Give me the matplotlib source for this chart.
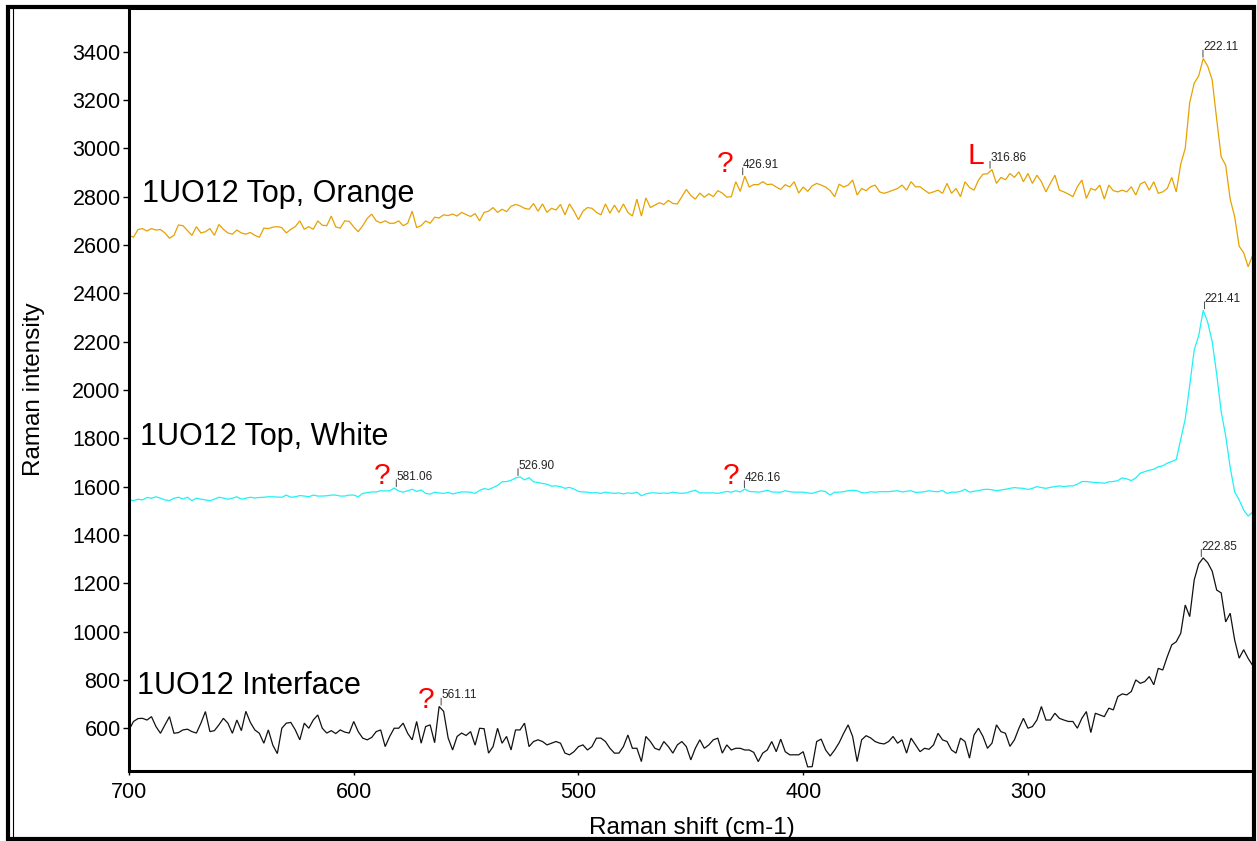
import numpy as np
import matplotlib
matplotlib.use("Agg")
import matplotlib.pyplot as plt
from matplotlib.patches import Rectangle
from matplotlib.lines import Line2D

plt.rcParams['font.family'] = ['Liberation Sans', 'DejaVu Sans']

# Raman shift grid (cm-1), 2 cm-1 steps from 700 down to 200
shift = np.arange(700, 199, -2)

orange = [
    2640, 2632, 2664, 2668, 2658, 2668, 2662, 2664, 2650, 2628,
    2640, 2683, 2680, 2660, 2640, 2676, 2650, 2655, 2668, 2640,
    2685, 2665, 2650, 2645, 2662, 2650, 2645, 2652, 2640, 2632,
    2670, 2668, 2674, 2676, 2672, 2650, 2665, 2676, 2700, 2665,
    2676, 2665, 2700, 2682, 2680, 2720, 2675, 2670, 2700, 2698,
    2675, 2655, 2680, 2710, 2728, 2700, 2692, 2700, 2690, 2690,
    2700, 2680, 2690, 2740, 2672, 2680, 2700, 2690, 2715, 2712,
    2725, 2722, 2728, 2720, 2735, 2726, 2718, 2730, 2700, 2735,
    2740, 2755, 2735, 2748, 2738, 2760, 2768, 2762, 2752, 2748,
    2772, 2740, 2770, 2735, 2752, 2745, 2768, 2725, 2770, 2740,
    2705, 2740, 2755, 2752, 2735, 2725, 2770, 2732, 2765, 2735,
    2770, 2735, 2720, 2790, 2720, 2795, 2755, 2765, 2775, 2768,
    2785, 2772, 2770, 2800, 2830, 2805, 2790, 2815, 2798, 2812,
    2800, 2825, 2815, 2798, 2800, 2862, 2822, 2885, 2840, 2850,
    2850, 2862, 2850, 2852, 2840, 2830, 2850, 2840, 2862, 2815,
    2840, 2822, 2845, 2855, 2848, 2840, 2825, 2800, 2852, 2840,
    2848, 2869, 2807, 2834, 2825, 2841, 2848, 2820, 2814, 2820,
    2827, 2834, 2848, 2827, 2862, 2841, 2841, 2827, 2814, 2820,
    2827, 2814, 2855, 2814, 2834, 2800, 2862, 2838, 2827, 2869,
    2893, 2895, 2912, 2855, 2880, 2870, 2896, 2880, 2903, 2862,
    2896, 2855, 2889, 2862, 2820, 2855, 2889, 2827, 2820, 2811,
    2800, 2841, 2869, 2793, 2834, 2827, 2848, 2790, 2848, 2825,
    2820, 2827, 2820, 2841, 2807, 2852, 2862, 2827, 2862, 2814,
    2820, 2834, 2880, 2820, 2935, 3000, 3190, 3270, 3300, 3372,
    3340, 3283, 3120, 2965, 2930, 2790, 2717, 2595, 2568, 2510,
    2558,
]

white = [
    1545, 1542, 1548, 1545, 1555, 1552, 1558, 1552, 1545, 1542,
    1552, 1556, 1549, 1556, 1542, 1552, 1548, 1545, 1542, 1548,
    1556, 1553, 1548, 1552, 1558, 1548, 1552, 1556, 1553, 1555,
    1556, 1558, 1558, 1557, 1556, 1565, 1556, 1558, 1563, 1561,
    1558, 1565, 1561, 1561, 1562, 1565, 1565, 1561, 1561, 1565,
    1565, 1558, 1572, 1575, 1578, 1578, 1583, 1582, 1583, 1594,
    1582, 1577, 1583, 1589, 1580, 1586, 1572, 1569, 1577, 1574,
    1572, 1576, 1570, 1574, 1578, 1578, 1577, 1572, 1584, 1592,
    1588, 1596, 1605, 1620, 1621, 1626, 1636, 1640, 1628, 1637,
    1620, 1617, 1613, 1610, 1602, 1603, 1600, 1593, 1597, 1590,
    1580, 1578, 1577, 1574, 1575, 1572, 1577, 1574, 1572, 1574,
    1570, 1574, 1572, 1577, 1562, 1570, 1574, 1574, 1572, 1574,
    1572, 1577, 1574, 1572, 1574, 1580, 1585, 1574, 1574, 1574,
    1574, 1572, 1576, 1580, 1577, 1583, 1578, 1590, 1580, 1579,
    1577, 1580, 1585, 1578, 1577, 1577, 1583, 1579, 1577, 1577,
    1577, 1574, 1572, 1578, 1583, 1579, 1565, 1577, 1577, 1579,
    1583, 1585, 1583, 1575, 1574, 1579, 1577, 1579, 1579, 1579,
    1581, 1583, 1578, 1581, 1583, 1576, 1577, 1579, 1583, 1580,
    1579, 1584, 1572, 1577, 1577, 1580, 1589, 1577, 1581, 1583,
    1588, 1589, 1587, 1583, 1586, 1589, 1593, 1596, 1594, 1593,
    1588, 1593, 1600, 1596, 1593, 1597, 1600, 1603, 1600, 1603,
    1603, 1610, 1621, 1621, 1619, 1617, 1616, 1614, 1620, 1621,
    1625, 1636, 1632, 1625, 1636, 1656, 1662, 1668, 1672, 1682,
    1686, 1697, 1704, 1712, 1795, 1880, 2020, 2166, 2225, 2330,
    2280, 2200, 2065, 1910, 1810, 1680, 1578, 1545, 1503, 1478,
    1495,
]

interface = [
    593, 628, 640, 641, 634, 648, 607, 579, 614, 648,
    579, 582, 593, 596, 586, 580, 621, 669, 586, 590,
    614, 641, 621, 579, 634, 590, 670, 624, 593, 579,
    538, 593, 530, 495, 600, 621, 624, 593, 552, 621,
    600, 634, 655, 600, 580, 590, 578, 593, 584, 580,
    628, 586, 559, 552, 562, 586, 593, 524, 566, 600,
    600, 621, 579, 552, 628, 538, 607, 614, 540, 690,
    670, 560, 510, 566, 580, 570, 586, 530, 600, 598,
    497, 524, 600, 538, 566, 510, 593, 593, 621, 524,
    545, 552, 545, 531, 538, 545, 538, 497, 490, 503,
    524, 531, 510, 524, 559, 559, 545, 517, 497, 497,
    524, 572, 517, 517, 462, 566, 545, 517, 510, 545,
    524, 497, 531, 545, 524, 469, 517, 552, 517, 531,
    552, 559, 497, 531, 510, 517, 517, 510, 510, 500,
    462, 497, 510, 545, 503, 555, 503, 490, 490, 490,
    503, 440, 441, 545, 555, 510, 485, 510, 540, 579,
    614, 566, 462, 552, 569, 560, 545, 538, 535, 545,
    566, 538, 552, 497, 559, 531, 503, 517, 513, 531,
    579, 552, 545, 510, 497, 559, 545, 476, 572, 600,
    566, 517, 538, 614, 586, 579, 525, 552, 600, 641,
    600, 607, 634, 690, 634, 634, 662, 641, 634, 628,
    628, 600, 641, 669, 582, 662, 655, 648, 683, 676,
    731, 742, 738, 752, 800, 786, 793, 814, 780, 848,
    841, 896, 945, 958, 993, 1110, 1062, 1214, 1280, 1305,
    1285, 1250, 1172, 1160, 1040, 1076, 965, 890, 925, 889,
    860,
]

# Labelled peak positions (cm-1)
orange_peaks = [426.91, 316.86, 222.11]
white_peaks = [581.06, 526.90, 426.16, 221.41]
interface_peaks = [561.11, 222.85]

# Series names, with the baseline position of each name
series_names = ['1UO12 Top, Orange', '1UO12 Top, White', '1UO12 Interface']
name_x = [694.4, 695.1, 696.3]
name_y = [2779, 1772, 741]

# Red flags: (symbol, shift, intensity at baseline, alignment)
flags = [
    ('?', 434.8, 2902, 'center'),
    ('L', 327.0, 2935, 'left'),
    ('?', 587.5, 1611, 'center'),
    ('?', 432.2, 1611, 'center'),
    ('?', 567.9, 683, 'center'),
]

x_ticks = [700, 600, 500, 400, 300]
y_ticks = list(range(600, 3401, 200))

W, H = 1257, 841
fig = plt.figure(figsize=(W / 100, H / 100), dpi=100)
fig.patch.set_facecolor('white')
ax = fig.add_axes([129 / W, 70 / H, (1254 - 129) / W, (771 - 8) / H])

colors = ['#e6a200', '#1ff2f5', '#111111']
all_series = [orange, white, interface]
all_peaks = [orange_peaks, white_peaks, interface_peaks]

for ys, c in zip(all_series, colors):
    ax.plot(shift, ys, color=c, lw=0.9, solid_joinstyle='miter')

for ys, peaks in zip(all_series, all_peaks):
    arr = np.asarray(ys, dtype=float)
    for p in peaks:
        near = np.abs(shift - p) <= 2
        yv = arr[near].max()
        ax.annotate('', xy=(p, yv), xytext=(0, 6), textcoords='offset points',
                    arrowprops=dict(arrowstyle='-', lw=0.7, color='#444444',
                                    shrinkA=0, shrinkB=1))
        ax.annotate(f'{p:.2f}', xy=(p, yv), xytext=(0, 6),
                    textcoords='offset points', ha='left', va='baseline',
                    fontsize=8.5, color='#222222')

for name, nx, ny in zip(series_names, name_x, name_y):
    ax.text(nx, ny, name, fontsize=22, ha='left', va='baseline', color='black')

for sym, fx, fy, al in flags:
    ax.text(fx, fy, sym, fontsize=21.5, ha=al, va='baseline', color='#ff0000')

ax.set_xlim(700, 199.4)
ax.set_ylim(423, 3581)
ax.set_xticks(x_ticks)
ax.set_yticks(y_ticks)
ax.tick_params(axis='y', direction='out', length=4, width=1, labelsize=15.5, pad=2)
ax.tick_params(axis='x', direction='out', length=3, width=1, labelsize=15.5, pad=5)
ax.set_xlabel('Raman shift (cm-1)', fontsize=17.5, labelpad=10)
ax.set_ylabel('Raman intensity', fontsize=17.5, labelpad=20)

for side in ['left', 'bottom']:
    ax.spines[side].set_linewidth(2.2)
ax.spines['top'].set_linewidth(2.2)
ax.spines['right'].set_linewidth(1.5)

# Outer frame around the whole figure
fig.add_artist(Rectangle((8 / W, 2.5 / H), (1254.3 - 8) / W, (838.5 - 7) / H,
                         transform=fig.transFigure, fill=False, lw=3,
                         edgecolor='black'))
fig.add_artist(Line2D([12.5 / W, 12.5 / W], [4 / H, 836 / H],
                      transform=fig.transFigure, lw=0.8, color='black'))

fig.savefig('out.png', dpi=100, facecolor='white')
